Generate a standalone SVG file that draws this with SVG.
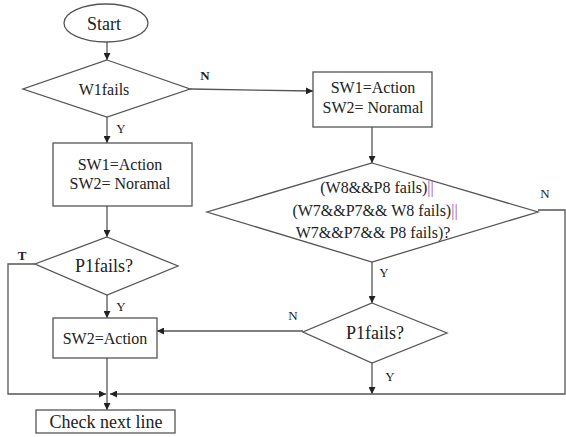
<svg xmlns="http://www.w3.org/2000/svg" width="566" height="437" viewBox="0 0 566 437">
<defs>
<marker id="ah" viewBox="0 0 10 10" refX="10" refY="5" markerWidth="7" markerHeight="7" markerUnits="userSpaceOnUse" orient="auto">
<path d="M0,0 L10,5 L0,10 z" fill="#222"/>
</marker>
</defs>
<style>
.s{fill:#fff;stroke:#555;stroke-width:1.3}
text{font-family:'Liberation Serif','DejaVu Serif',serif}
.t{font-size:16px;fill:#222;text-anchor:middle}
.big{font-size:18px}
.l{font-size:13px;fill:#222;text-anchor:middle}
.c{fill:none;stroke:#555;stroke-width:1.3}
.a{marker-end:url(#ah)}
.p{fill:#a050b0}
</style>
<rect width="566" height="437" fill="#fff"/>
<g id="connectors">
<path class="c a" d="M107,42 V60"/>
<path class="c a" d="M107,117 V143"/>
<path class="c a" d="M190,89 L313,91"/>
<path class="c a" d="M372,127 V163"/>
<path class="c a" d="M107,206 V237"/>
<path class="c a" d="M107,295 V318"/>
<path class="c a" d="M372,262 V303"/>
<path class="c a" d="M303,331 H157"/>
<path class="c a" d="M107,358 V410"/>
<path class="c a" d="M35,264 H8 V394 H106"/>
<path class="c a" d="M372,363 V394"/>
<path class="c a" d="M538,210 H565 V394 H110"/>
</g>
<g id="labels">
<text class="l" x="205" y="80" font-weight="bold">N</text>
<text class="l" x="121" y="133">Y</text>
<text class="l" x="22" y="260" font-weight="bold">T</text>
<text class="l" x="121" y="311">Y</text>
<text class="l" x="545" y="198">N</text>
<text class="l" x="384" y="277">Y</text>
<text class="l" x="293" y="320">N</text>
<text class="l" x="390" y="381">Y</text>
</g>
<g id="start">
<ellipse class="s" cx="106" cy="23" rx="42" ry="19"/>
<text class="t big" x="104" y="30">Start</text>
</g>
<g id="w1fails">
<polygon class="s" points="107,60 190,89 107,117 23,89"/>
<text class="t" x="104" y="95">W1fails</text>
</g>
<g id="sw1-left">
<rect class="s" x="53" y="143" width="139" height="63"/>
<text class="t" x="120" y="170">SW1=Action</text>
<text class="t" x="120" y="189">SW2= Noramal</text>
</g>
<g id="sw1-right">
<rect class="s" x="313" y="72" width="119" height="55"/>
<text class="t" x="373" y="93">SW1=Action</text>
<text class="t" x="373" y="113">SW2= Noramal</text>
</g>
<g id="bigcond">
<polygon class="s" points="372,163 538,212 372,262 207,212"/>
<text class="t" x="377" y="193">(W8&amp;&amp;P8 fails)<tspan class="p">||</tspan></text>
<text class="t" x="375" y="216">(W7&amp;&amp;P7&amp;&amp; W8 fails)<tspan class="p">||</tspan></text>
<text class="t" x="373" y="238">W7&amp;&amp;P7&amp;&amp; P8 fails)?</text>
</g>
<g id="p1-left">
<polygon class="s" points="107,237 178,266 107,295 35,264"/>
<text class="t big" x="104" y="272">P1fails?</text>
</g>
<g id="p1-right">
<polygon class="s" points="372,303 447,333 372,363 303,332"/>
<text class="t big" x="375" y="339">P1fails?</text>
</g>
<g id="sw2">
<rect class="s" x="53" y="318" width="104" height="40"/>
<text class="t" x="105" y="344">SW2=Action</text>
</g>
<g id="check">
<rect class="s" x="36" y="410" width="139" height="23"/>
<text class="t big" x="106" y="428">Check next line</text>
</g>
</svg>
